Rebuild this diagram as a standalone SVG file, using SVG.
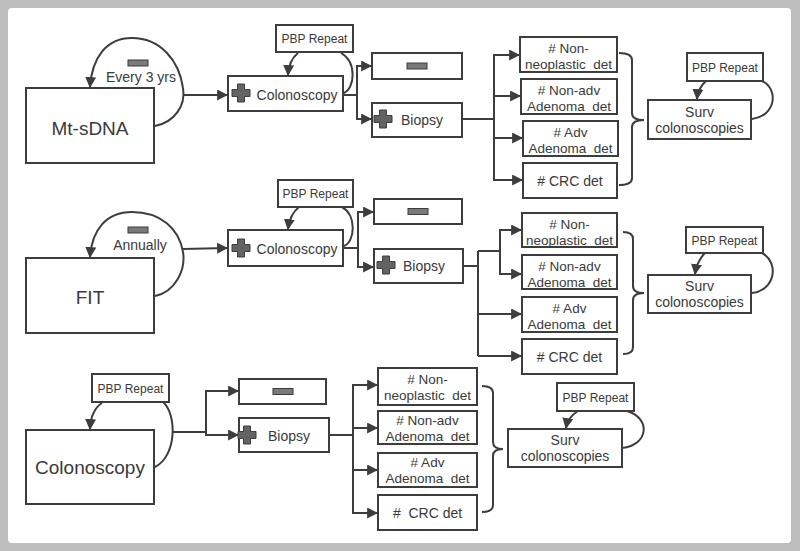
<svg xmlns="http://www.w3.org/2000/svg" width="800" height="551" viewBox="0 0 800 551">
<defs>
<style>
.box{fill:#fff;stroke:#3d3d3d;stroke-width:2}
.ln{fill:none;stroke:#3d3d3d;stroke-width:2}
.arr{fill:none;stroke:#3d3d3d;stroke-width:2;marker-end:url(#ah)}
text{font-family:"Liberation Sans",Arial,sans-serif;fill:#3a3a3a;text-anchor:middle;white-space:pre}
.big{font-size:19px}
.md{font-size:14px}
.rs{font-size:13.5px}
.sm{font-size:12px}
.plus{fill:#636363;stroke:#3d3d3d;stroke-width:1}
.minus{fill:#7a7a7a;stroke:#3d3d3d;stroke-width:1}
</style>
<marker id="ah" viewBox="0 0 10 10" refX="9" refY="5" markerWidth="11" markerHeight="11" markerUnits="userSpaceOnUse" orient="auto">
<path d="M0,0 L10,5 L0,10 z" fill="#3d3d3d"/>
</marker>
<path id="plus" class="plus" d="M-3.5,-9 h7 v5.5 h5.5 v7 h-5.5 v5.5 h-7 v-5.5 h-5.5 v-7 h5.5 z"/>
<rect id="minus" class="minus" x="-10" y="-3" width="20" height="6"/>
</defs>
<rect x="0" y="0" width="800" height="551" fill="#bdbdbd"/>
<rect x="8" y="8" width="783" height="535" rx="4" fill="#fff"/>

<g id="connectors">
<!-- Section 1 -->
<path class="arr" d="M155,126 C175,122 186,105 183,88 C179,60 160,38 132,38 C106,38 92,58 90,87"/>
<path class="arr" d="M183,95 L227,95"/>
<path class="arr" d="M298,53 Q289,60 288,75"/>
<path class="ln" d="M341,53 C357,62 355,88 344,93"/>
<path class="ln" d="M343,95 H357"/>
<path class="arr" d="M357,95 V66 H371"/>
<path class="arr" d="M357,95 V119 H371"/>
<path class="ln" d="M462,119 H494"/>
<path class="arr" d="M494,119 V55 H519"/>
<path class="arr" d="M494,119 V96 H520"/>
<path class="arr" d="M494,119 V138 H522"/>
<path class="arr" d="M494,119 V180 H522"/>
<path class="ln" d="M619,53 Q632,53 632,60 V113 Q632,120 644,120 Q632,120 632,127 V178 Q632,185 619,185"/>
<path class="arr" d="M706,81 Q698,88 697,99"/>
<path class="ln" d="M762,81 C779,89 776,116 752,119"/>

<!-- Section 2 -->
<path class="arr" d="M155,296 C175,292 186,270 183,252 C179,228 160,212 132,212 C106,212 92,230 90,257"/>
<path class="arr" d="M183,249 L227,248"/>
<path class="arr" d="M299,207 Q290,214 288,229"/>
<path class="ln" d="M342,207 C357,215 355,242 344,246"/>
<path class="ln" d="M343,248 H358"/>
<path class="arr" d="M358,248 V212 H373"/>
<path class="arr" d="M358,248 V267 H373"/>
<path class="ln" d="M463,266 H478"/>
<path class="ln" d="M478,251 V356"/>
<path class="ln" d="M478,251 H500"/>
<path class="arr" d="M500,251 V230 H521"/>
<path class="arr" d="M500,251 V274 H521"/>
<path class="arr" d="M478,314 H521"/>
<path class="arr" d="M478,356 H521"/>
<path class="ln" d="M623,232 Q633,232 633,239 V286 Q633,293 644,293 Q633,293 633,300 V347 Q633,354 623,354"/>
<path class="arr" d="M705,253 Q697,261 695,274"/>
<path class="ln" d="M762,253 C779,262 776,290 752,293"/>

<!-- Section 3 -->
<path class="arr" d="M102,403 Q91,410 90,429"/>
<path class="ln" d="M163,402 C177,414 177,456 155,467"/>
<path class="ln" d="M172,432 H206"/>
<path class="arr" d="M206,432 V391 H238"/>
<path class="arr" d="M206,432 V435 H238"/>
<path class="ln" d="M329,435 H353"/>
<path class="arr" d="M353,435 V385 H377"/>
<path class="arr" d="M353,435 V428 H377"/>
<path class="arr" d="M353,435 V470 H377"/>
<path class="arr" d="M353,435 V513 H377"/>
<path class="ln" d="M482,386 Q493,386 493,393 V442 Q493,449 503,449 Q493,449 493,456 V505 Q493,512 482,512"/>
<path class="arr" d="M578,411 Q568,417 566,428"/>
<path class="ln" d="M627,411 C651,418 649,445 622,448"/>
</g>

<!-- Section 1 nodes -->
<g id="mtsdna"><rect class="box" x="26" y="88" width="128" height="75"/><text class="big" x="90" y="135">Mt-sDNA</text></g>
<g id="every3"><use href="#minus" x="138" y="63"/><text class="md" x="141" y="82">Every 3 yrs</text></g>
<g id="colo1"><rect class="box" x="228" y="76" width="115" height="35"/><use href="#plus" x="241" y="93"/><text class="md" x="297" y="100">Colonoscopy</text></g>
<g id="pbp1"><rect class="box" x="276" y="25" width="77" height="27"/><text class="sm" x="314.5" y="43">PBP Repeat</text></g>
<g id="neg1"><rect class="box" x="372" y="53" width="90" height="26"/><use href="#minus" x="417" y="66"/></g>
<g id="biopsy1"><rect class="box" x="372" y="103" width="90" height="34"/><use href="#plus" x="383" y="119"/><text class="md" x="422" y="125">Biopsy</text></g>
<g id="r1a"><rect class="box" x="520" y="37" width="97" height="35"/><text class="rs" x="568.5" y="53"># Non-</text><text class="rs" x="568.5" y="69">neoplastic  det</text></g>
<g id="r1b"><rect class="box" x="521" y="79" width="96" height="35"/><text class="rs" x="569" y="95"># Non-adv</text><text class="rs" x="569" y="111">Adenoma  det</text></g>
<g id="r1c"><rect class="box" x="523" y="121" width="95" height="35"/><text class="rs" x="570.5" y="137"># Adv</text><text class="rs" x="570.5" y="153">Adenoma  det</text></g>
<g id="r1d"><rect class="box" x="523" y="163" width="94" height="35"/><text class="md" x="570" y="186"># CRC det</text></g>
<g id="surv1"><rect class="box" x="648" y="100" width="103" height="39"/><text class="md" x="699.5" y="117">Surv</text><text class="md" x="699.5" y="133">colonoscopies</text></g>
<g id="pbp1b"><rect class="box" x="687" y="53" width="76" height="28"/><text class="sm" x="725" y="72">PBP Repeat</text></g>

<!-- Section 2 nodes -->
<g id="fit"><rect class="box" x="26" y="258" width="128" height="75"/><text class="big" x="90" y="304">FIT</text></g>
<g id="annually"><use href="#minus" x="138" y="230"/><text class="md" x="140" y="250">Annually</text></g>
<g id="colo2"><rect class="box" x="228" y="230" width="115" height="36"/><use href="#plus" x="241" y="248"/><text class="md" x="297" y="254">Colonoscopy</text></g>
<g id="pbp2"><rect class="box" x="278" y="180" width="75" height="27"/><text class="sm" x="315.5" y="198">PBP Repeat</text></g>
<g id="neg2"><rect class="box" x="374" y="199" width="88" height="25"/><use href="#minus" x="418" y="211.5"/></g>
<g id="biopsy2"><rect class="box" x="374" y="249" width="89" height="34"/><use href="#plus" x="386" y="265"/><text class="md" x="424" y="271">Biopsy</text></g>
<g id="r2a"><rect class="box" x="522" y="213" width="95" height="34"/><text class="rs" x="569.5" y="229"># Non-</text><text class="rs" x="569.5" y="245">neoplastic  det</text></g>
<g id="r2b"><rect class="box" x="522" y="255" width="95" height="34"/><text class="rs" x="569.5" y="271"># Non-adv</text><text class="rs" x="569.5" y="287">Adenoma  det</text></g>
<g id="r2c"><rect class="box" x="522" y="297" width="95" height="35"/><text class="rs" x="569.5" y="313"># Adv</text><text class="rs" x="569.5" y="329">Adenoma  det</text></g>
<g id="r2d"><rect class="box" x="522" y="339" width="95" height="35"/><text class="md" x="569.5" y="362"># CRC det</text></g>
<g id="surv2"><rect class="box" x="648" y="275" width="103" height="38"/><text class="md" x="699.5" y="291">Surv</text><text class="md" x="699.5" y="307">colonoscopies</text></g>
<g id="pbp2b"><rect class="box" x="686" y="227" width="77" height="26"/><text class="sm" x="724.5" y="245">PBP Repeat</text></g>

<!-- Section 3 nodes -->
<g id="colo3"><rect class="box" x="26" y="430" width="128" height="74"/><text class="big" x="90" y="474">Colonoscopy</text></g>
<g id="pbp3"><rect class="box" x="92" y="374" width="77" height="28"/><text class="sm" x="130.5" y="393">PBP Repeat</text></g>
<g id="neg3"><rect class="box" x="239" y="379" width="87" height="25"/><use href="#minus" x="283" y="391.5"/></g>
<g id="biopsy3"><rect class="box" x="239" y="418" width="90" height="34"/><use href="#plus" x="247" y="435"/><text class="md" x="289" y="441">Biopsy</text></g>
<g id="r3a"><rect class="box" x="378" y="368" width="99" height="37"/><text class="rs" x="427.5" y="384"># Non-</text><text class="rs" x="427.5" y="400">neoplastic  det</text></g>
<g id="r3b"><rect class="box" x="378" y="411" width="99" height="33"/><text class="rs" x="427.5" y="425"># Non-adv</text><text class="rs" x="427.5" y="441">Adenoma  det</text></g>
<g id="r3c"><rect class="box" x="378" y="453" width="99" height="34"/><text class="rs" x="427.5" y="467"># Adv</text><text class="rs" x="427.5" y="483">Adenoma  det</text></g>
<g id="r3d"><rect class="box" x="378" y="495" width="99" height="35"/><text class="md" x="427.5" y="518">#  CRC det</text></g>
<g id="surv3"><rect class="box" x="508" y="429" width="114" height="38"/><text class="md" x="565" y="445">Surv</text><text class="md" x="565" y="461">colonoscopies</text></g>
<g id="pbp3b"><rect class="box" x="557" y="383" width="77" height="28"/><text class="sm" x="595.5" y="402">PBP Repeat</text></g>
</svg>
